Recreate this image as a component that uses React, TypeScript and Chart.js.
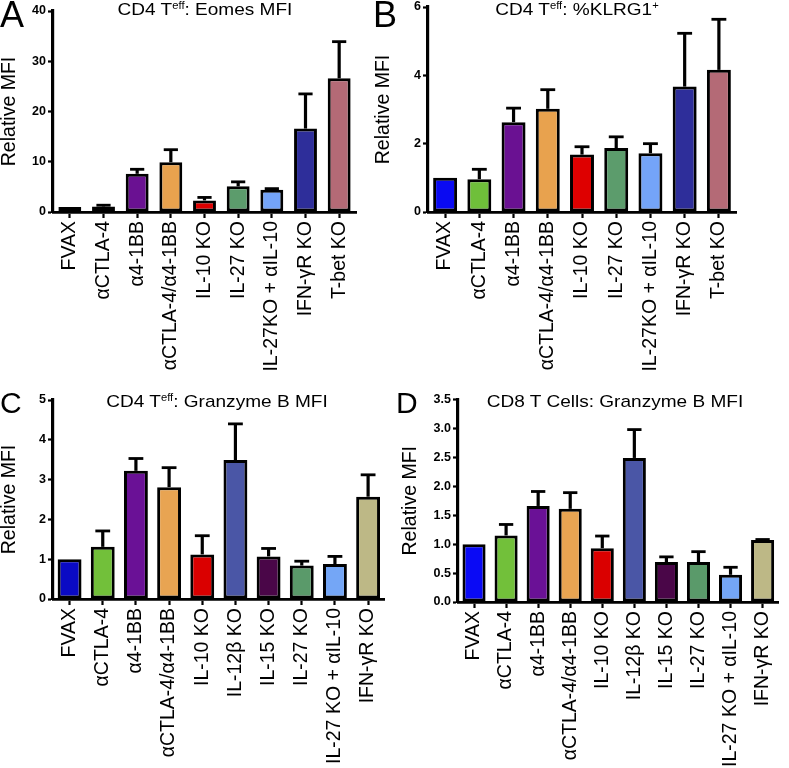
import React, { useEffect, useRef } from 'react';
import { Chart, registerables } from 'chart.js';

Chart.register(...registerables);

// ---------- data ----------
const catsTop = ['FVAX', 'αCTLA-4', 'α4-1BB', 'αCTLA-4/α4-1BB', 'IL-10 KO', 'IL-27 KO', 'IL-27KO + αIL-10', 'IFN-γR KO', 'T-bet KO'];
const catsBottom = ['FVAX', 'αCTLA-4', 'α4-1BB', 'αCTLA-4/α4-1BB', 'IL-10 KO', 'IL-12β KO', 'IL-15 KO', 'IL-27 KO', 'IL-27 KO + αIL-10', 'IFN-γR KO'];

const eomesMean = [1.0, 1.1, 7.6, 9.9, 2.3, 5.1, 4.45, 16.6, 26.6];
const eomesErr = [1.0, 1.35, 8.5, 12.4, 2.9, 6.0, 4.65, 23.5, 33.9];
const klrgMean = [1.0, 0.96, 2.63, 3.02, 1.68, 1.87, 1.72, 3.67, 4.16];
const klrgErr = [1.0, 1.25, 3.04, 3.58, 1.91, 2.2, 2.0, 5.23, 5.64];
const gzbCd4Mean = [1.0, 1.31, 3.22, 2.81, 1.12, 3.49, 1.07, 0.84, 0.88, 2.57];
const gzbCd4Err = [1.0, 1.71, 3.53, 3.3, 1.59, 4.4, 1.27, 0.95, 1.07, 3.12];
const gzbCd8Mean = [1.0, 1.15, 1.66, 1.61, 0.93, 2.49, 0.69, 0.69, 0.47, 1.07];
const gzbCd8Err = [1.0, 1.34, 1.91, 1.89, 1.14, 2.98, 0.78, 0.87, 0.6, 1.08];

const ticksA = [0, 10, 20, 30, 40];
const ticksB = [0, 2, 4, 6];
const ticksC = [0, 1, 2, 3, 4, 5];
const ticksD = [0, 0.5, 1.0, 1.5, 2.0, 2.5, 3.0, 3.5];

const colorsA = ['#1b1b8f', '#6fbf3a', '#6a1192', '#e8a24e', '#de0000', '#5c9c6c', '#74a4f8', '#2e2e9a', '#b46a76'];
const colorsB = ['#0a0af2', '#6fbf3a', '#6a1192', '#e8a24e', '#de0000', '#5c9c6c', '#74a4f8', '#2e2e9a', '#b46a76'];
const colorsC = ['#0a0ac4', '#72c03a', '#6a1196', '#e8a452', '#da0000', '#4a56a6', '#4a0648', '#5a9a6a', '#74a6f6', '#bdb886'];
const colorsD = ['#0a0af5', '#72c03a', '#6a1196', '#e8a452', '#da0000', '#4a56a6', '#4a0648', '#5a9a6a', '#74a6f6', '#bdb886'];

const FONT = 'Arial, "Liberation Sans", Helvetica, sans-serif';

// ---------- error bar plugin ----------
const errorBarPlugin = {
  id: 'errorBars',
  afterDatasetsDraw(chart: any) {
    const ctx = chart.ctx;
    const yScale = chart.scales.y;
    chart.data.datasets.forEach((ds: any, i: number) => {
      const errs = ds.errorTop;
      if (!errs) return;
      const meta = chart.getDatasetMeta(i);
      meta.data.forEach((bar: any, j: number) => {
        const v = ds.data[j];
        const e = errs[j];
        if (e == null || e <= v) return;
        const { x, y, width } = bar.getProps(['x', 'y', 'width'], true);
        const top = yScale.getPixelForValue(e);
        const capW = width * 0.62;
        ctx.save();
        ctx.strokeStyle = '#000';
        ctx.lineWidth = 3.2;
        ctx.beginPath();
        ctx.moveTo(x, y);
        ctx.lineTo(x, top);
        ctx.stroke();
        ctx.lineWidth = 2.8;
        ctx.beginPath();
        ctx.moveTo(x - capW / 2, top);
        ctx.lineTo(x + capW / 2, top);
        ctx.stroke();
        ctx.restore();
      });
    });
  },
};

type Rect = { x: number; y: number; w: number; h: number };
type Area = { l: number; r: number; t: number; b: number };

type PanelProps = {
  labels: string[];
  values: number[];
  errors: number[];
  colors: string[];
  ticks: number[];
  decimals: number;
  canvas: Rect;
  area: Area;
  barPct: number;
};

function Panel(p: PanelProps) {
  const ref = useRef<HTMLCanvasElement | null>(null);
  useEffect(() => {
    if (!ref.current) return;
    const { canvas, area } = p;
    const yMax = p.ticks[p.ticks.length - 1];
    const chart = new Chart(ref.current, {
      type: 'bar',
      data: {
        labels: p.labels,
        datasets: [
          {
            data: p.values,
            errorTop: p.errors,
            backgroundColor: p.colors,
            borderColor: '#000',
            borderWidth: 3,
            borderSkipped: false,
            barPercentage: 1,
            categoryPercentage: p.barPct,
          } as any,
        ],
      },
      options: {
        responsive: false,
        maintainAspectRatio: false,
        animation: false,
        devicePixelRatio: 1,
        layout: {
          padding: {
            left: 0,
            top: area.t - canvas.y,
            right: canvas.x + canvas.w - area.r,
            bottom: 0,
          },
        },
        plugins: {
          legend: { display: false },
          tooltip: { enabled: false },
          title: { display: false },
        },
        scales: {
          x: {
            type: 'category',
            offset: true,
            grid: {
              display: true,
              offset: false,
              drawOnChartArea: false,
              drawTicks: true,
              tickLength: 6,
              tickWidth: 2.2,
              color: '#000',
            },
            border: { display: true, color: '#000', width: 2.8 },
            ticks: {
              autoSkip: false,
              minRotation: 90,
              maxRotation: 90,
              padding: 3,
              color: '#000',
              font: { family: FONT, size: 19.5 },
            },
            afterFit(scale: any) {
              scale.height = canvas.y + canvas.h - area.b;
            },
          },
          y: {
            type: 'linear',
            min: 0,
            max: yMax,
            grid: {
              display: true,
              drawOnChartArea: false,
              drawTicks: true,
              tickLength: 5,
              tickWidth: 2.2,
              color: '#000',
            },
            border: { display: true, color: '#000', width: 3.2 },
            ticks: {
              padding: 2,
              color: '#000',
              font: { family: FONT, size: 12.5, weight: 700 },
              callback: (v: any) => Number(v).toFixed(p.decimals),
            },
            afterBuildTicks(scale: any) {
              scale.ticks = p.ticks.map((v) => ({ value: v }));
            },
            title: {
              display: true,
              text: 'Relative MFI',
              color: '#000',
              padding: 0,
              font: { family: FONT, size: 19.5, lineHeight: 1 },
            },
            afterFit(scale: any) {
              scale.width = area.l - canvas.x;
            },
          },
        },
      } as any,
      plugins: [errorBarPlugin],
    });
    return () => chart.destroy();
  }, []);
  const { canvas } = p;
  return (
    <canvas
      ref={ref}
      width={canvas.w}
      height={canvas.h}
      style={{ position: 'absolute', left: canvas.x, top: canvas.y, width: canvas.w, height: canvas.h }}
    />
  );
}

function Title(props: { cx: number; top: number; children: any }) {
  return (
    <div
      style={{
        position: 'absolute',
        left: props.cx - 200,
        width: 400,
        top: props.top,
        textAlign: 'center',
        fontFamily: FONT,
        fontSize: 17,
        lineHeight: '18px',
        color: '#000',
        whiteSpace: 'nowrap',
        transform: 'scaleX(1.12)',
      }}
    >
      {props.children}
    </div>
  );
}

const supStyle: React.CSSProperties = { fontSize: '10px', verticalAlign: '6px', lineHeight: 0 };

function Letter(props: { x: number; y: number; size: number; text: string }) {
  return (
    <div
      style={{
        position: 'absolute',
        left: props.x,
        top: props.y,
        fontFamily: FONT,
        fontSize: props.size,
        lineHeight: `${props.size}px`,
        color: '#000',
      }}
    >
      {props.text}
    </div>
  );
}

export default function App() {
  return (
    <div style={{ position: 'absolute', left: 0, top: 0, width: 789, height: 768, overflow: 'hidden', background: '#fff' }}>
      <Panel
        labels={catsTop}
        values={eomesMean}
        errors={eomesErr}
        colors={colorsA}
        ticks={ticksA}
        decimals={0}
        canvas={{ x: 0, y: -20, w: 380, h: 410 }}
        area={{ l: 53, r: 356, t: 11, b: 212 }}
        barPct={0.68}
      />
      <Panel
        labels={catsTop}
        values={klrgMean}
        errors={klrgErr}
        colors={colorsB}
        ticks={ticksB}
        decimals={0}
        canvas={{ x: 374, y: -20, w: 415, h: 410 }}
        area={{ l: 428, r: 736, t: 7, b: 212 }}
        barPct={0.7}
      />
      <Panel
        labels={catsBottom}
        values={gzbCd4Mean}
        errors={gzbCd4Err}
        colors={colorsC}
        ticks={ticksC}
        decimals={0}
        canvas={{ x: 0, y: 380, w: 395, h: 388 }}
        area={{ l: 53, r: 385, t: 400, b: 599 }}
        barPct={0.72}
      />
      <Panel
        labels={catsBottom}
        values={gzbCd8Mean}
        errors={gzbCd8Err}
        colors={colorsD}
        ticks={ticksD}
        decimals={1}
        canvas={{ x: 401, y: 380, w: 388, h: 388 }}
        area={{ l: 458, r: 789, t: 399.5, b: 602 }}
        barPct={0.72}
      />
      <Title cx={205} top={1}>
        CD4 T<span style={supStyle}>eff</span>: Eomes MFI
      </Title>
      <Title cx={577} top={1}>
        CD4 T<span style={supStyle}>eff</span>: %KLRG1<span style={supStyle}>+</span>
      </Title>
      <Title cx={217} top={393}>
        CD4 T<span style={supStyle}>eff</span>: Granzyme B MFI
      </Title>
      <Title cx={615} top={393}>
        CD8 T Cells: Granzyme B MFI
      </Title>
      <Letter x={0} y={-3.5} size={36} text="A" />
      <Letter x={373} y={-3.5} size={36} text="B" />
      <Letter x={0} y={388} size={30} text="C" />
      <Letter x={396} y={388} size={30} text="D" />
    </div>
  );
}
